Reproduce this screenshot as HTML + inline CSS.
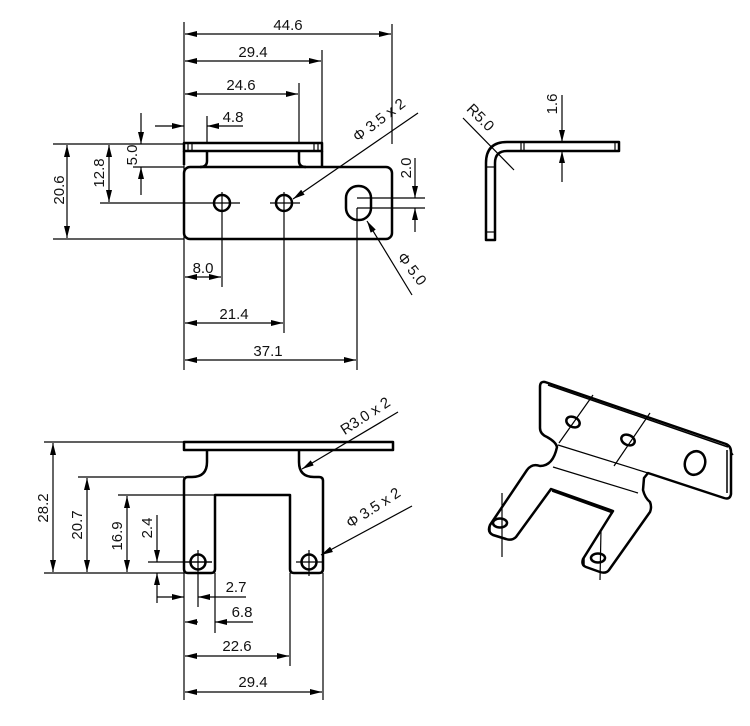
<!DOCTYPE html>
<html><head><meta charset="utf-8"><style>
html,body{margin:0;padding:0;background:#fff;}
svg{display:block}
text{font-family:"Liberation Sans",sans-serif;font-size:15px;fill:#111;}
.t{stroke:#000;stroke-width:1.2;fill:none}
.o{stroke:#000;stroke-width:2.5;fill:none;stroke-linejoin:round}
</style></head><body>
<svg width="750" height="726" viewBox="0 0 750 726" xmlns="http://www.w3.org/2000/svg">
<defs>
<marker id="a" markerUnits="userSpaceOnUse" markerWidth="12" markerHeight="6" refX="12" refY="3" orient="auto-start-reverse"><path d="M0,0 L12,3 L0,6 z" fill="#000"/></marker>
</defs>

<!-- ===== TOP VIEW ===== -->
<g class="t">
<line x1="184" y1="22" x2="184" y2="370"/>
<line x1="392" y1="24" x2="392" y2="144"/>
<line x1="322" y1="50" x2="322" y2="143"/>
<line x1="299" y1="83" x2="299" y2="143"/>
<line x1="207" y1="116" x2="207" y2="143"/>
<line x1="185" y1="34" x2="391" y2="34" marker-start="url(#a)" marker-end="url(#a)"/>
<line x1="185" y1="61" x2="321" y2="61" marker-start="url(#a)" marker-end="url(#a)"/>
<line x1="185" y1="94" x2="298" y2="94" marker-start="url(#a)" marker-end="url(#a)"/>
<line x1="155" y1="126" x2="184" y2="126" marker-end="url(#a)"/>
<line x1="243" y1="126" x2="207" y2="126" marker-end="url(#a)"/>
<line x1="53" y1="144" x2="184" y2="144"/>
<line x1="53" y1="239" x2="184" y2="239"/>
<line x1="67" y1="145" x2="67" y2="238" marker-start="url(#a)" marker-end="url(#a)"/>
<line x1="100" y1="203" x2="240" y2="203"/>
<line x1="109" y1="145" x2="109" y2="202" marker-start="url(#a)" marker-end="url(#a)"/>
<line x1="133" y1="167" x2="184" y2="167"/>
<line x1="141" y1="113" x2="141" y2="144" marker-end="url(#a)"/>
<line x1="141" y1="195" x2="141" y2="167" marker-end="url(#a)"/>
<line x1="270" y1="203" x2="300" y2="203"/>
<line x1="357" y1="198" x2="425" y2="198"/>
<line x1="357" y1="208" x2="425" y2="208"/>
<line x1="415" y1="158" x2="415" y2="198" marker-end="url(#a)"/>
<line x1="415" y1="232" x2="415" y2="208" marker-end="url(#a)"/>
<line x1="222" y1="192" x2="222" y2="287"/>
<line x1="284" y1="192" x2="284" y2="333"/>
<line x1="357" y1="208" x2="357" y2="370"/>
<line x1="185" y1="277" x2="221" y2="277" marker-start="url(#a)" marker-end="url(#a)"/>
<line x1="185" y1="323" x2="283" y2="323" marker-start="url(#a)" marker-end="url(#a)"/>
<line x1="185" y1="360" x2="356" y2="360" marker-start="url(#a)" marker-end="url(#a)"/>
<line x1="418" y1="113" x2="293" y2="199" marker-end="url(#a)"/>
<line x1="412" y1="295" x2="367" y2="221" marker-end="url(#a)"/>
</g>
<g class="o">
<rect x="184" y="143" width="138" height="8"/>
<path d="M184,151 L184,165 M207,151 L207,161 Q207,167 200,167 M299,151 L299,161 Q299,167 306,167 M322,151 L322,167"/>
<rect x="184" y="167" width="208" height="72" rx="6"/>
<circle cx="222" cy="203" r="8"/>
<circle cx="284" cy="203" r="8"/>
<rect x="346" y="186" width="25" height="34" rx="12"/>
</g>
<g class="t" stroke-width="1"><line x1="188" y1="144" x2="188" y2="150"/><line x1="192" y1="144" x2="192" y2="150"/><line x1="314" y1="144" x2="314" y2="150"/><line x1="318" y1="144" x2="318" y2="150"/></g>
<text x="288" y="30" text-anchor="middle">44.6</text>
<text x="253" y="57" text-anchor="middle">29.4</text>
<text x="241" y="90" text-anchor="middle">24.6</text>
<text x="233" y="122" text-anchor="middle">4.8</text>
<text transform="translate(137,155) rotate(-90)" text-anchor="middle">5.0</text>
<text transform="translate(104,173) rotate(-90)" text-anchor="middle">12.8</text>
<text transform="translate(64,190) rotate(-90)" text-anchor="middle">20.6</text>
<text transform="translate(411,168) rotate(-90)" text-anchor="middle">2.0</text>
<text x="203" y="273" text-anchor="middle">8.0</text>
<text x="234" y="319" text-anchor="middle">21.4</text>
<text x="268" y="356" text-anchor="middle">37.1</text>
<text transform="translate(382,124) rotate(-37)" text-anchor="middle">Φ 3.5 x 2</text>
<text transform="translate(408,272) rotate(52)" text-anchor="middle">Φ 5.0</text>

<!-- ===== SIDE VIEW ===== -->
<g class="o">
<path d="M486,240 L486,163 Q486,142 507,142 L619,142 L619,151 L507,151 Q495,151 495,163 L495,240 Z"/>
</g>
<g class="t">
<line x1="562" y1="95" x2="562" y2="142" marker-end="url(#a)"/>
<line x1="562" y1="182" x2="562" y2="151" marker-end="url(#a)"/>
<line x1="463" y1="118" x2="514" y2="170"/>
<line x1="521" y1="143" x2="521" y2="150"/><line x1="524" y1="143" x2="524" y2="150"/>
<line x1="615" y1="143" x2="615" y2="150"/>
<line x1="487" y1="232" x2="494" y2="232"/>
<line x1="487" y1="167" x2="494" y2="167"/>
</g>
<text transform="translate(557,104) rotate(-90)" text-anchor="middle">1.6</text>
<text transform="translate(477,121) rotate(45)" text-anchor="middle">R5.0</text>

<!-- ===== BOTTOM VIEW ===== -->
<g class="t">
<line x1="44" y1="442" x2="184" y2="442"/>
<line x1="44" y1="573" x2="184" y2="573"/>
<line x1="78" y1="477" x2="184" y2="477"/>
<line x1="118" y1="495" x2="215" y2="495"/>
<line x1="148" y1="562" x2="212" y2="562"/>
<line x1="53" y1="443" x2="53" y2="572" marker-start="url(#a)" marker-end="url(#a)"/>
<line x1="87" y1="478" x2="87" y2="572" marker-start="url(#a)" marker-end="url(#a)"/>
<line x1="127" y1="496" x2="127" y2="572" marker-start="url(#a)" marker-end="url(#a)"/>
<line x1="157" y1="515" x2="157" y2="562" marker-end="url(#a)"/>
<line x1="157" y1="603" x2="157" y2="573" marker-end="url(#a)"/>
<line x1="184" y1="573" x2="184" y2="700"/>
<line x1="323" y1="573" x2="323" y2="700"/>
<line x1="198" y1="550" x2="198" y2="607"/>
<line x1="215" y1="573" x2="215" y2="633"/>
<line x1="290" y1="573" x2="290" y2="666"/>
<line x1="157" y1="597" x2="184" y2="597" marker-end="url(#a)"/>
<line x1="246" y1="597" x2="198" y2="597" marker-end="url(#a)"/>
<line x1="185" y1="622" x2="198" y2="622" marker-start="url(#a)"/>
<line x1="253" y1="622" x2="215" y2="622" marker-end="url(#a)"/>
<line x1="185" y1="656" x2="289" y2="656" marker-start="url(#a)" marker-end="url(#a)"/>
<line x1="185" y1="692" x2="322" y2="692" marker-start="url(#a)" marker-end="url(#a)"/>
<line x1="398" y1="412" x2="302" y2="469" marker-end="url(#a)"/>
<line x1="412" y1="506" x2="321" y2="555" marker-end="url(#a)"/>
<line x1="185" y1="562" x2="212" y2="562"/>
<line x1="296" y1="562" x2="322" y2="562"/>
<line x1="309" y1="550" x2="309" y2="576"/>
</g>
<g class="o">
<rect x="184" y="442" width="209" height="8"/>
<path d="M207,450 L207,462 Q207,477 192,477 L188,477 Q184,477 184,481 L184,569 Q184,573 188,573 L211,573 Q215,573 215,569 L215,495 L290,495 L290,569 Q290,573 294,573 L319,573 Q323,573 323,569 L323,481 Q323,477 319,477 L314,477 Q299,477 299,462 L299,450"/>
<circle cx="198" cy="562" r="7.5"/>
<circle cx="309" cy="562" r="7.5"/>
</g>
<text transform="translate(48,508) rotate(-90)" text-anchor="middle">28.2</text>
<text transform="translate(82,525) rotate(-90)" text-anchor="middle">20.7</text>
<text transform="translate(122,536) rotate(-90)" text-anchor="middle">16.9</text>
<text transform="translate(152,528) rotate(-90)" text-anchor="middle">2.4</text>
<text x="236" y="592" text-anchor="middle">2.7</text>
<text x="242" y="617" text-anchor="middle">6.8</text>
<text x="237" y="651" text-anchor="middle">22.6</text>
<text x="253" y="687" text-anchor="middle">29.4</text>
<text transform="translate(368,420) rotate(-33)" text-anchor="middle">R3.0 x 2</text>
<text transform="translate(376,512) rotate(-33)" text-anchor="middle">Φ 3.5 x 2</text>

<!-- ===== ISO VIEW ===== -->
<g class="o">
<path d="M545,382 L726,444 Q731,446 731,452 L731,494 Q730,500 724,498 L648,473 L644,478 L643,490 Q645,498 650,502 Q652,507 650,512 L609,570 Q606,574 600,572 L586,567 Q581,565 583,559 L613,511 L551,489 L516,537 Q512,541 506,539 L493,535 Q487,532 490,525 L527,470 Q532,463 540,466 Q553,466 557,447 Q556,442 547,437 Q540,434 540,428 L540,387 Q540,381 545,382 Z"/>
<path d="M548,385 L728,447" stroke-width="1.5"/>
<path d="M552,491 L613,513" stroke-width="1.5"/>
<path d="M727,450 L727,493" stroke-width="1.5"/>
<ellipse cx="573" cy="422" rx="7" ry="5" transform="rotate(25 573 422)"/>
<ellipse cx="628" cy="440" rx="7" ry="5" transform="rotate(25 628 440)"/>
<ellipse cx="695" cy="463" rx="10" ry="12" transform="rotate(20 695 463)"/>
<ellipse cx="500" cy="523" rx="7" ry="4.5"/>
<ellipse cx="598" cy="558" rx="7" ry="4.5"/>
<path d="M584,557 L584,566 M490,525 L490,533 M731,452 L733,455" stroke-width="1.5"/>
</g>
<g class="t">
<line x1="558" y1="445" x2="648" y2="473"/>
<line x1="553" y1="467" x2="638" y2="493"/>
<line x1="593" y1="395" x2="559" y2="443"/>
<line x1="650" y1="413" x2="614" y2="466"/>
<line x1="502" y1="493" x2="502" y2="557"/>
<line x1="601" y1="530" x2="600" y2="580"/>
</g>
</svg>
</body></html>
